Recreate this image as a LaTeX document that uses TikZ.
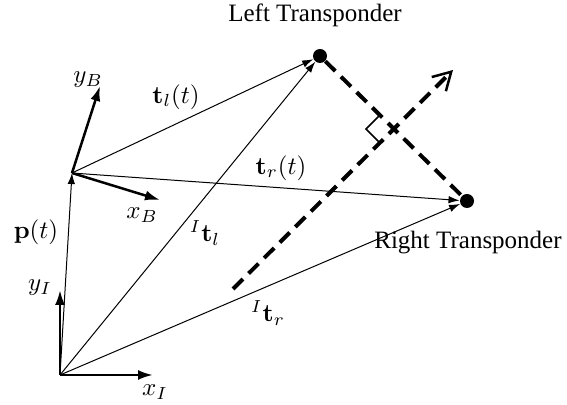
\documentclass[tikz,border=0pt]{standalone}
\usepackage[no-math]{fontspec}
\setmainfont{Liberation Serif}
\usetikzlibrary{arrows.meta, positioning}

\begin{document}
\begin{tikzpicture}[
        x=0.4pt, y=-0.4pt,
        dot/.style={circle, fill, inner sep=0pt, minimum size=5.6pt},
        lbl/.style={inner sep=1pt},
        line/.style={draw, -{Latex[length=4.4pt, width=3pt]}, line width=0.4pt},
        axis/.style={draw, -{Latex[length=6pt, width=4pt]}, line width=1pt},
        dashline/.style={draw, dash pattern=on 5.6pt off 3.2pt, line width=1.6pt}
    ]
        \useasboundingbox (0,0) rectangle (567,405);
        % Frames
        \coordinate (orig) at (60,375);
        \coordinate (body) at (72,173);
        \coordinate (xi) at (153,375);
        \coordinate (yi) at (60,290);
        \coordinate (xb) at (160,200);
        \coordinate (yb) at (100,86);
        % Transponders
        \node [dot] (left) at (320,56) {};
        \node [dot] (right) at (467,201) {};
        \node [lbl] (leftlbl) at (315,15) {Left Transponder};
        \node [lbl] (rightlbl) at (468,243) {Right Transponder};
        % Dashed arrow and right angle
        \coordinate (dstart) at (233,289);
        \coordinate (dend) at (453,70);
        \coordinate (ra1) at (380,115);
        \coordinate (ra2) at (366,129);
        \coordinate (ra3) at (380,143);

        % Edges
        \path [axis] (orig) -- (xi);
        \path [axis] (orig) -- (yi);
        \path [axis] (body) -- (xb);
        \path [axis] (body) -- (yb);
        \path [line] (orig) -- (body);
        \path [line] (orig) -- (left);
        \path [line] (orig) -- (right);
        \path [line] (body) -- (left);
        \path [line] (body) -- (right);
        \path [dashline] (left) -- (right);
        \path [dashline, -{Straight Barb[length=7pt, width=8pt, line width=1pt]}] (dstart) -- (dend);
        \draw [line width=0.6pt] (ra1) -- (ra2) -- (ra3);

        % Labels
        \node [lbl] (xilbl) at (155,392) {$x_I$};
        \node [lbl] (yilbl) at (40,288) {$y_I$};
        \node [lbl] (xblbl) at (142,215) {$x_B$};
        \node [lbl] (yblbl) at (88,80) {$y_B$};
        \node [lbl] (plbl) at (36,232) {$\mathbf{p}(t)$};
        \node [lbl] (tllbl) at (176,97) {$\mathbf{t}_l(t)$};
        \node [lbl] (trlbl) at (281,168) {$\mathbf{t}_r(t)$};
        \node [lbl] (itllbl) at (205,233) {${}^I\mathbf{t}_l$};
        \node [lbl] (itrlbl) at (268,313) {${}^I\mathbf{t}_r$};
    \end{tikzpicture}
\end{document}
